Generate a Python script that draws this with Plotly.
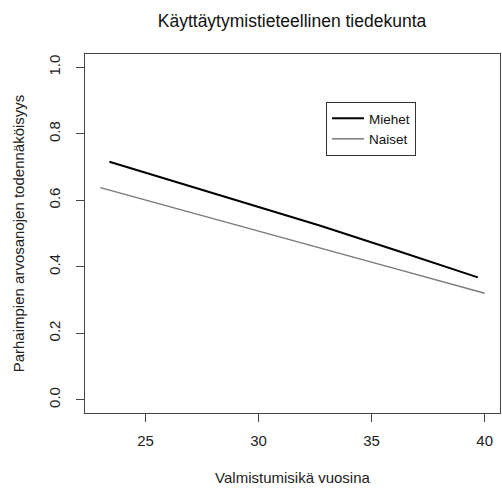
import plotly.graph_objects as go

# Data
miehet_x = [23.4, 26.5, 30.0, 32.7, 36.0, 39.7]
miehet_y = [0.716, 0.652, 0.580, 0.524, 0.451, 0.368]
naiset_x = [23.0, 26.5, 30.0, 32.7, 36.0, 40.0]
naiset_y = [0.638, 0.572, 0.507, 0.456, 0.395, 0.320]

x_ticks = [25, 30, 35, 40]
y_ticks = [0.0, 0.2, 0.4, 0.6, 0.8, 1.0]
y_ticktext = ["0.0", "0.2", "0.4", "0.6", "0.8", "1.0"]

title = "Käyttäytymistieteellinen tiedekunta"
xlab = "Valmistumisikä vuosina"
ylab = "Parhaimpien arvosanojen todennäköisyys"

font = "Liberation Sans, Arial, sans-serif"

fig = go.Figure()
fig.add_trace(go.Scatter(x=miehet_x, y=miehet_y, mode="lines", name="Miehet",
                         line=dict(color="black", width=2)))
fig.add_trace(go.Scatter(x=naiset_x, y=naiset_y, mode="lines", name="Naiset",
                         line=dict(color="#7a7a7a", width=1.5)))

fig.update_layout(
    width=502, height=493,
    margin=dict(l=85, r=2, t=54, b=80),
    paper_bgcolor="white", plot_bgcolor="white",
    font=dict(family=font, size=15, color="#222"),
    title=dict(text=title, x=(292 / 502), xanchor="center", y=1 - 21 / 493, yanchor="middle",
               font=dict(family=font, size=17.5, color="#111")),
    showlegend=True,
    legend=dict(x=(326 - 85) / 415, y=(413 - 102) / 359, xanchor="left", yanchor="top",
                bordercolor="#333", borderwidth=1, bgcolor="white",
                font=dict(family=font, size=13.5, color="#111"),
                itemwidth=32, tracegroupgap=0),
)
fig.update_xaxes(range=[22.32, 40.68], tickvals=x_ticks, ticks="outside", ticklen=8,
                 tickcolor="#444", showgrid=False, zeroline=False,
                 showline=True, linecolor="#444", linewidth=1, mirror=True,
                 tickfont=dict(size=15), ticklabelstandoff=6,
                 title=dict(text=xlab, font=dict(size=15), standoff=24))
fig.update_yaxes(range=[-0.04, 1.04], tickvals=y_ticks, ticktext=y_ticktext,
                 ticks="outside", ticklen=8, tickangle=-90,
                 tickcolor="#444", showgrid=False, zeroline=False,
                 showline=True, linecolor="#444", linewidth=1, mirror=True,
                 tickfont=dict(size=15), ticklabelstandoff=10,
                 title=dict(text=ylab, font=dict(size=15), standoff=17))

fig.write_html("out.html")
